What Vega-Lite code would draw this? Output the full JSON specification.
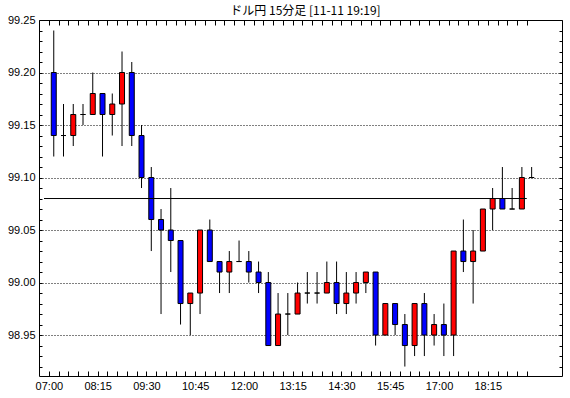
{
  "$schema": "https://vega.github.io/schema/vega-lite/v6.json",
  "width": 523,
  "height": 356,
  "autosize": "none",
  "padding": {"left": 39, "top": 20, "right": 8, "bottom": 22},
  "background": "white",
  "title": {"text": "ドル円 15分足 [11-11 19:19]", "font": "Noto Sans CJK JP", "fontSize": 12, "fontWeight": "normal", "color": "black", "offset": -4, "anchor": "middle", "dx": 5},
  "config": {
    "view": {"stroke": "black", "strokeWidth": 1},
    "axis": {"domain": false, "tickColor": "black", "tickWidth": 1, "labelColor": "black", "labelFont": "Liberation Sans", "labelFontSize": 11, "labelOverlap": false, "labelFlush": false, "labelBound": false, "title": null}
  },
  "data": {"values": [
    {"t": "2013-11-11T07:00Z", "open": 99.20, "high": 99.24, "low": 99.12, "close": 99.14},
    {"t": "2013-11-11T07:15Z", "open": 99.14, "high": 99.17, "low": 99.12, "close": 99.14},
    {"t": "2013-11-11T07:30Z", "open": 99.14, "high": 99.17, "low": 99.13, "close": 99.16},
    {"t": "2013-11-11T07:45Z", "open": 99.16, "high": 99.17, "low": 99.15, "close": 99.16},
    {"t": "2013-11-11T08:00Z", "open": 99.16, "high": 99.20, "low": 99.16, "close": 99.18},
    {"t": "2013-11-11T08:15Z", "open": 99.18, "high": 99.18, "low": 99.12, "close": 99.16},
    {"t": "2013-11-11T08:30Z", "open": 99.16, "high": 99.18, "low": 99.14, "close": 99.17},
    {"t": "2013-11-11T08:45Z", "open": 99.17, "high": 99.22, "low": 99.13, "close": 99.20},
    {"t": "2013-11-11T09:00Z", "open": 99.20, "high": 99.21, "low": 99.13, "close": 99.14},
    {"t": "2013-11-11T09:15Z", "open": 99.14, "high": 99.15, "low": 99.09, "close": 99.10},
    {"t": "2013-11-11T09:30Z", "open": 99.10, "high": 99.11, "low": 99.03, "close": 99.06},
    {"t": "2013-11-11T09:45Z", "open": 99.06, "high": 99.07, "low": 98.97, "close": 99.05},
    {"t": "2013-11-11T10:00Z", "open": 99.05, "high": 99.09, "low": 99.01, "close": 99.04},
    {"t": "2013-11-11T10:15Z", "open": 99.04, "high": 99.04, "low": 98.96, "close": 98.98},
    {"t": "2013-11-11T10:30Z", "open": 98.98, "high": 98.99, "low": 98.95, "close": 98.99},
    {"t": "2013-11-11T10:45Z", "open": 98.99, "high": 99.05, "low": 98.97, "close": 99.05},
    {"t": "2013-11-11T11:00Z", "open": 99.05, "high": 99.06, "low": 99.02, "close": 99.02},
    {"t": "2013-11-11T11:15Z", "open": 99.02, "high": 99.02, "low": 98.99, "close": 99.01},
    {"t": "2013-11-11T11:30Z", "open": 99.01, "high": 99.03, "low": 98.99, "close": 99.02},
    {"t": "2013-11-11T11:45Z", "open": 99.02, "high": 99.04, "low": 99.02, "close": 99.02},
    {"t": "2013-11-11T12:00Z", "open": 99.02, "high": 99.03, "low": 99.00, "close": 99.01},
    {"t": "2013-11-11T12:15Z", "open": 99.01, "high": 99.02, "low": 98.99, "close": 99.00},
    {"t": "2013-11-11T12:30Z", "open": 99.00, "high": 99.01, "low": 98.94, "close": 98.94},
    {"t": "2013-11-11T12:45Z", "open": 98.94, "high": 98.99, "low": 98.94, "close": 98.97},
    {"t": "2013-11-11T13:00Z", "open": 98.97, "high": 98.99, "low": 98.95, "close": 98.97},
    {"t": "2013-11-11T13:15Z", "open": 98.97, "high": 99.00, "low": 98.97, "close": 98.99},
    {"t": "2013-11-11T13:30Z", "open": 98.99, "high": 99.01, "low": 98.98, "close": 98.99},
    {"t": "2013-11-11T13:45Z", "open": 98.99, "high": 99.01, "low": 98.98, "close": 98.99},
    {"t": "2013-11-11T14:00Z", "open": 98.99, "high": 99.02, "low": 98.99, "close": 99.00},
    {"t": "2013-11-11T14:15Z", "open": 99.00, "high": 99.02, "low": 98.97, "close": 98.98},
    {"t": "2013-11-11T14:30Z", "open": 98.98, "high": 99.01, "low": 98.97, "close": 98.99},
    {"t": "2013-11-11T14:45Z", "open": 98.99, "high": 99.01, "low": 98.98, "close": 99.00},
    {"t": "2013-11-11T15:00Z", "open": 99.00, "high": 99.01, "low": 98.99, "close": 99.01},
    {"t": "2013-11-11T15:15Z", "open": 99.01, "high": 99.01, "low": 98.94, "close": 98.95},
    {"t": "2013-11-11T15:30Z", "open": 98.95, "high": 98.98, "low": 98.95, "close": 98.98},
    {"t": "2013-11-11T15:45Z", "open": 98.98, "high": 98.98, "low": 98.95, "close": 98.96},
    {"t": "2013-11-11T16:00Z", "open": 98.96, "high": 98.97, "low": 98.92, "close": 98.94},
    {"t": "2013-11-11T16:15Z", "open": 98.94, "high": 98.98, "low": 98.93, "close": 98.98},
    {"t": "2013-11-11T16:30Z", "open": 98.98, "high": 98.99, "low": 98.93, "close": 98.95},
    {"t": "2013-11-11T16:45Z", "open": 98.95, "high": 98.97, "low": 98.94, "close": 98.96},
    {"t": "2013-11-11T17:00Z", "open": 98.96, "high": 98.98, "low": 98.93, "close": 98.95},
    {"t": "2013-11-11T17:15Z", "open": 98.95, "high": 99.03, "low": 98.93, "close": 99.03},
    {"t": "2013-11-11T17:30Z", "open": 99.03, "high": 99.06, "low": 99.01, "close": 99.02},
    {"t": "2013-11-11T17:45Z", "open": 99.02, "high": 99.05, "low": 98.98, "close": 99.03},
    {"t": "2013-11-11T18:00Z", "open": 99.03, "high": 99.07, "low": 99.03, "close": 99.07},
    {"t": "2013-11-11T18:15Z", "open": 99.07, "high": 99.09, "low": 99.05, "close": 99.08},
    {"t": "2013-11-11T18:30Z", "open": 99.08, "high": 99.11, "low": 99.07, "close": 99.07},
    {"t": "2013-11-11T18:45Z", "open": 99.07, "high": 99.09, "low": 99.07, "close": 99.07},
    {"t": "2013-11-11T19:00Z", "open": 99.07, "high": 99.11, "low": 99.07, "close": 99.10},
    {"t": "2013-11-11T19:15Z", "open": 99.10, "high": 99.11, "low": 99.10, "close": 99.10}
  ]},
  "layer": [
    {
      "mark": {"type": "rule", "color": "black", "strokeWidth": 1},
      "encoding": {
        "x": {"field": "t", "type": "temporal",
          "scale": {"type": "utc", "domain": [1384152300000, 1384199640000], "nice": false},
          "axis": {"orient": "bottom", "tickSize": -5, "labelPadding": 9, "grid": false,
            "values": [1384152750000,1384153650000,1384154550000,1384155450000,1384156350000,1384157250000,1384158150000,1384159050000,1384159950000,1384160850000,1384161750000,1384162650000,1384163550000,1384164450000,1384165350000,1384166250000,1384167150000,1384168050000,1384168950000,1384169850000,1384170750000,1384171650000,1384172550000,1384173450000,1384174350000,1384175250000,1384176150000,1384177050000,1384177950000,1384178850000,1384179750000,1384180650000,1384181550000,1384182450000,1384183350000,1384184250000,1384185150000,1384186050000,1384186950000,1384187850000,1384188750000,1384189650000,1384190550000,1384191450000,1384192350000,1384193250000,1384194150000,1384195050000,1384195950000,1384196850000],
            "labelExpr": "(time(datum.value) + 450000 - 1384153200000) % 4500000 === 0 ? utcFormat(time(datum.value) + 450000, '%H:%M') : ''"}},
        "y": {"field": "low", "type": "quantitative",
          "scale": {"domain": [98.911, 99.25], "nice": false, "zero": false},
          "axis": {"orient": "left", "tickSize": -3, "labelPadding": 7,
            "values": [98.92,98.93,98.94,98.95,98.96,98.97,98.98,98.99,99.00,99.01,99.02,99.03,99.04,99.05,99.06,99.07,99.08,99.09,99.10,99.11,99.12,99.13,99.14,99.15,99.16,99.17,99.18,99.19,99.20,99.21,99.22,99.23,99.24,99.25],
            "labelExpr": "round(datum.value * 100) % 5 === 0 ? format(datum.value, '.2f') : ''",
            "grid": true, "gridColor": "black", "gridDash": [1, 2], "gridWidth": 1,
            "gridOpacity": {"condition": {"test": "round(datum.value * 100) % 5 === 0 && datum.value < 99.245", "value": 1}, "value": 0}}},
        "y2": {"field": "high"}
      }
    },
    {
      "mark": {"type": "bar", "width": 5, "stroke": "black", "strokeWidth": 1},
      "encoding": {
        "x": {"field": "t", "type": "temporal",
          "scale": {"type": "utc", "domain": [1384152300000, 1384199640000], "nice": false},
          "axis": {"orient": "top", "tickSize": -5, "labels": false, "grid": false,
            "values": [1384152750000,1384153650000,1384154550000,1384155450000,1384156350000,1384157250000,1384158150000,1384159050000,1384159950000,1384160850000,1384161750000,1384162650000,1384163550000,1384164450000,1384165350000,1384166250000,1384167150000,1384168050000,1384168950000,1384169850000,1384170750000,1384171650000,1384172550000,1384173450000,1384174350000,1384175250000,1384176150000,1384177050000,1384177950000,1384178850000,1384179750000,1384180650000,1384181550000,1384182450000,1384183350000,1384184250000,1384185150000,1384186050000,1384186950000,1384187850000,1384188750000,1384189650000,1384190550000,1384191450000,1384192350000,1384193250000,1384194150000,1384195050000,1384195950000,1384196850000]}},
        "y": {"field": "open", "type": "quantitative",
          "scale": {"domain": [98.911, 99.25], "nice": false, "zero": false},
          "axis": {"orient": "right", "tickSize": -3, "labels": false, "grid": false,
            "values": [98.92,98.93,98.94,98.95,98.96,98.97,98.98,98.99,99.00,99.01,99.02,99.03,99.04,99.05,99.06,99.07,99.08,99.09,99.10,99.11,99.12,99.13,99.14,99.15,99.16,99.17,99.18,99.19,99.20,99.21,99.22,99.23,99.24,99.25]}},
        "y2": {"field": "close"},
        "fill": {"condition": {"test": "datum.open < datum.close", "value": "#ff0000"}, "value": "#0000ff"}
      }
    },
    {
      "data": {"values": [{"price": 99.08, "from": "2013-11-11T06:45Z", "to": "2013-11-11T19:07:30Z"}]},
      "mark": {"type": "rule", "color": "black", "strokeWidth": 1},
      "encoding": {
        "x": {"field": "from", "type": "temporal", "scale": {"type": "utc", "domain": [1384152300000, 1384199640000], "nice": false}, "axis": null},
        "x2": {"field": "to"},
        "y": {"field": "price", "type": "quantitative", "scale": {"domain": [98.911, 99.25], "nice": false, "zero": false}, "axis": null}
      }
    }
  ],
  "resolve": {"axis": {"x": "independent", "y": "independent"}}
}
